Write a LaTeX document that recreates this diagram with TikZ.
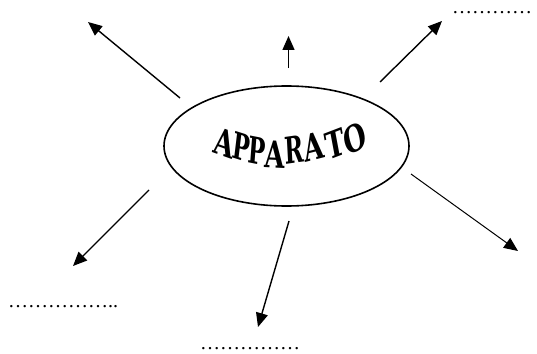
\documentclass[tikz,border=0pt]{standalone}
\usepackage{fontspec}
\setmainfont{Liberation Serif}
\newfontfamily\wordfont{DejaVu Serif}
\usetikzlibrary{arrows.meta,shapes.geometric}
\tikzset{
  conn/.style={line width=1.4pt,-{Triangle[length=14pt,width=12pt]}},
  thinconn/.style={line width=1pt,-{Triangle[length=14pt,width=12pt]}},
  letter/.style={anchor=base,inner sep=0pt,font=\wordfont\bfseries\fontsize{37}{37}\selectfont,xscale=0.7},
  narrow/.style={xscale=0.88},
  dotline/.style={anchor=base west,inner sep=0pt,font=\fontsize{20}{20}\selectfont}
}
\begin{document}
\begin{tikzpicture}[x=1pt,y=-1pt]
\useasboundingbox (0,0) rectangle (537,353);
\node[ellipse,draw,line width=1.6pt,minimum width=245pt,minimum height=120pt,inner sep=0pt] (app) at (286.5,146) {};
% arched word
\node[letter,rotate=-14] (l1) at (222,156) {A};
\node[letter,narrow,rotate=-11] (l2) at (240,160.5) {P};
\node[letter,narrow,rotate=-7] (l3) at (255.5,164) {P};
\node[letter,rotate=-2] (l4) at (274.5,167.5) {A};
\node[letter,narrow,rotate=5] (l5) at (294.5,163) {R};
\node[letter,rotate=10] (l6) at (315.5,160.5) {A};
\node[letter,rotate=15] (l7) at (338,157) {T};
\node[letter,rotate=20] (l8) at (358,150.5) {O};
% dotted placeholders
\node[dotline] (d1) at (452,14) {…………};
\node[dotline] (d2) at (8,307) {……………..};
\node[dotline] (d3) at (200,349) {……………};
% arrow end points
\coordinate (s1) at (180,98);  \coordinate (e1) at (88,22);
\coordinate (s2) at (288.5,68); \coordinate (e2) at (288.5,36);
\coordinate (s3) at (380,82);  \coordinate (e3) at (442,21);
\coordinate (s4) at (411,174); \coordinate (e4) at (518,251);
\coordinate (s5) at (149,190); \coordinate (e5) at (73,266);
\coordinate (s6) at (289,221); \coordinate (e6) at (258,327);
\draw[conn] (s1) -- (e1);
\draw[conn] (s2) -- (e2);
\draw[conn] (s3) -- (e3);
\draw[thinconn] (s4) -- (e4);
\draw[conn] (s5) -- (e5);
\draw[conn] (s6) -- (e6);
\end{tikzpicture}
\end{document}
